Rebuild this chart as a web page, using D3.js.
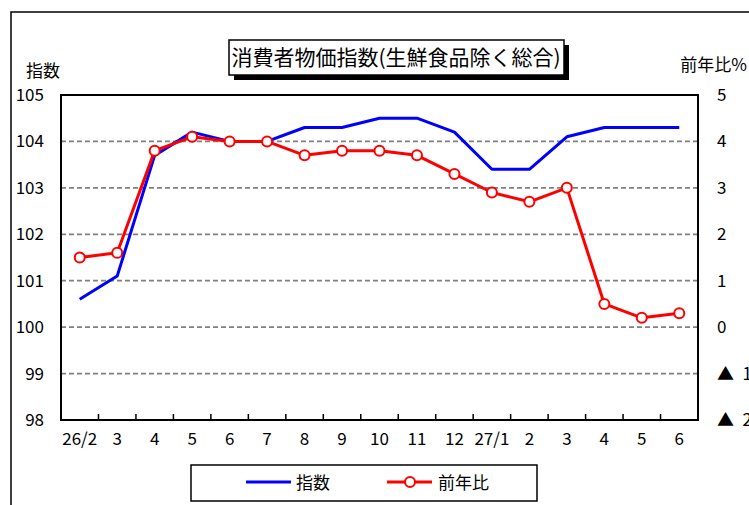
<!DOCTYPE html>
<html>
<head>
	<title>CPI</title>
	<meta charset="UTF-8">
	<style>
		body { margin: 0; background: #fff; }
		text { font-family: "Noto Sans CJK JP", sans-serif; fill: #000; }
		.grid { stroke: #808080; stroke-width: 1.8; stroke-dasharray: 5,3; }
	</style>
</head>
<body>
</body>
<script src="https://d3js.org/d3.v7.min.js"></script>
<script type="text/javascript">

'use strict';

// months 26/2 .. 27/6
var monthLabels = ["26/2", "3", "4", "5", "6", "7", "8", "9", "10", "11", "12", "27/1", "2", "3", "4", "5", "6"];
var indexValues = [100.6, 101.1, 103.7, 104.2, 104.0, 104.0, 104.3, 104.3, 104.5, 104.5, 104.2, 103.4, 103.4, 104.1, 104.3, 104.3, 104.3];
var yoyValues = [1.5, 1.6, 3.8, 4.1, 4.0, 4.0, 3.7, 3.8, 3.8, 3.7, 3.3, 2.9, 2.7, 3.0, 0.5, 0.2, 0.3];
var leftTicks = [98, 99, 100, 101, 102, 103, 104, 105];
var rightTicks = [-2, -1, 0, 1, 2, 3, 4, 5];

var width = 749;
var height = 505;
var plot = {left: 61, right: 698, top: 95, bottom: 420};

var svg = d3.select("body").append("svg")
	.attr("width", width)
	.attr("height", height);

// outer frame (runs off the picture on the right and bottom)
svg.append("rect")
	.attr("x", 11)
	.attr("y", 12)
	.attr("width", 800)
	.attr("height", 600)
	.attr("fill", "none")
	.attr("stroke", "#000")
	.attr("stroke-width", 1.5);

var idx = d3.range(monthLabels.length);

var x = d3.scaleBand()
	.domain(idx)
	.range([plot.left, plot.right]);

var yL = d3.scaleLinear()
	.domain([98, 105])
	.range([plot.bottom, plot.top]);

var yR = d3.scaleLinear()
	.domain([-2, 5])
	.range([plot.bottom, plot.top]);

function cx(i){ return x(i) + x.bandwidth() / 2; }

// grid
svg.append("g").selectAll("line")
	.data(leftTicks.filter(function(d){ return d > 98 && d < 105; }))
	.enter().append("line")
	.attr("class", "grid")
	.attr("x1", plot.left)
	.attr("x2", plot.right)
	.attr("y1", function(d){ return yL(d); })
	.attr("y2", function(d){ return yL(d); });

// left axis
var gl = svg.append("g")
	.attr("transform", "translate(" + plot.left + ",0)")
	.call(d3.axisLeft(yL).tickValues(leftTicks).tickSize(0).tickPadding(17).tickFormat(d3.format("d")));
gl.select(".domain").remove();
gl.selectAll("text").style("font-size", "17px").attr("font-family", null);

// right axis, negatives written with a triangle
var gr = svg.append("g")
	.attr("transform", "translate(" + plot.right + ",0)")
	.call(d3.axisRight(yR).tickValues(rightTicks).tickSize(0).tickPadding(19)
		.tickFormat(function(d){ return d < 0 ? "▲\u2002" + (-d) : d; }));
gr.select(".domain").remove();
gr.selectAll("text").style("font-size", "17px").attr("font-family", null);

// x axis labels
var gx = svg.append("g")
	.attr("transform", "translate(0," + plot.bottom + ")")
	.call(d3.axisBottom(x).tickSize(0).tickPadding(13).tickFormat(function(i){ return monthLabels[i]; }));
gx.select(".domain").remove();
gx.selectAll("text").style("font-size", "17px").attr("font-family", null);

// x ticks between categories
svg.append("g").selectAll("line")
	.data(idx.slice(1))
	.enter().append("line")
	.attr("x1", function(i){ return x(i); })
	.attr("x2", function(i){ return x(i); })
	.attr("y1", plot.bottom)
	.attr("y2", plot.bottom - 6)
	.attr("stroke", "#000")
	.attr("stroke-width", 1.5);

// plot border
svg.append("rect")
	.attr("x", plot.left)
	.attr("y", plot.top)
	.attr("width", plot.right - plot.left)
	.attr("height", plot.bottom - plot.top)
	.attr("fill", "none")
	.attr("stroke", "#000")
	.attr("stroke-width", 2);

// series
var lineIdx = d3.line()
	.x(function(d, i){ return cx(i); })
	.y(function(d){ return yL(d); });

var lineYoy = d3.line()
	.x(function(d, i){ return cx(i); })
	.y(function(d){ return yR(d); });

svg.append("path")
	.datum(indexValues)
	.attr("d", lineIdx)
	.attr("fill", "none")
	.attr("stroke", "#0000ff")
	.attr("stroke-width", 3)
	.attr("stroke-linejoin", "round");

svg.append("path")
	.datum(yoyValues)
	.attr("d", lineYoy)
	.attr("fill", "none")
	.attr("stroke", "#ff0000")
	.attr("stroke-width", 3)
	.attr("stroke-linejoin", "round");

svg.append("g").selectAll("circle")
	.data(yoyValues)
	.enter().append("circle")
	.attr("cx", function(d, i){ return cx(i); })
	.attr("cy", function(d){ return yR(d); })
	.attr("r", 5)
	.attr("fill", "#fff")
	.attr("stroke", "#ff0000")
	.attr("stroke-width", 2);

// axis titles
svg.append("text")
	.attr("x", 26)
	.attr("y", 71)
	.attr("dy", "0.35em")
	.style("font-size", "17px")
	.text("指数");

svg.append("text")
	.attr("x", 747)
	.attr("y", 65)
	.attr("dy", "0.35em")
	.attr("text-anchor", "end")
	.style("font-size", "17px")
	.text("前年比%");

// title box with shadow
svg.append("rect")
	.attr("x", 234)
	.attr("y", 45)
	.attr("width", 335)
	.attr("height", 35)
	.attr("fill", "#000");
svg.append("rect")
	.attr("x", 229)
	.attr("y", 40)
	.attr("width", 335)
	.attr("height", 35)
	.attr("fill", "#fff")
	.attr("stroke", "#000")
	.attr("stroke-width", 1.5);
svg.append("text")
	.attr("x", 396)
	.attr("y", 58)
	.attr("dy", "0.35em")
	.attr("text-anchor", "middle")
	.style("font-size", "21px")
	.text("消費者物価指数(生鮮食品除く総合)");

// legend
var lg = svg.append("g");
lg.append("rect")
	.attr("x", 191)
	.attr("y", 465)
	.attr("width", 346)
	.attr("height", 36)
	.attr("fill", "#fff")
	.attr("stroke", "#000")
	.attr("stroke-width", 1.5);
lg.append("line")
	.attr("x1", 246).attr("x2", 291)
	.attr("y1", 482).attr("y2", 482)
	.attr("stroke", "#0000ff")
	.attr("stroke-width", 3);
lg.append("text")
	.attr("x", 296)
	.attr("y", 483)
	.attr("dy", "0.35em")
	.style("font-size", "17px")
	.text("指数");
lg.append("line")
	.attr("x1", 387).attr("x2", 432)
	.attr("y1", 482).attr("y2", 482)
	.attr("stroke", "#ff0000")
	.attr("stroke-width", 3);
lg.append("circle")
	.attr("cx", 410)
	.attr("cy", 482)
	.attr("r", 5)
	.attr("fill", "#fff")
	.attr("stroke", "#ff0000")
	.attr("stroke-width", 2);
lg.append("text")
	.attr("x", 438)
	.attr("y", 483)
	.attr("dy", "0.35em")
	.style("font-size", "17px")
	.text("前年比");

</script>
</html>
